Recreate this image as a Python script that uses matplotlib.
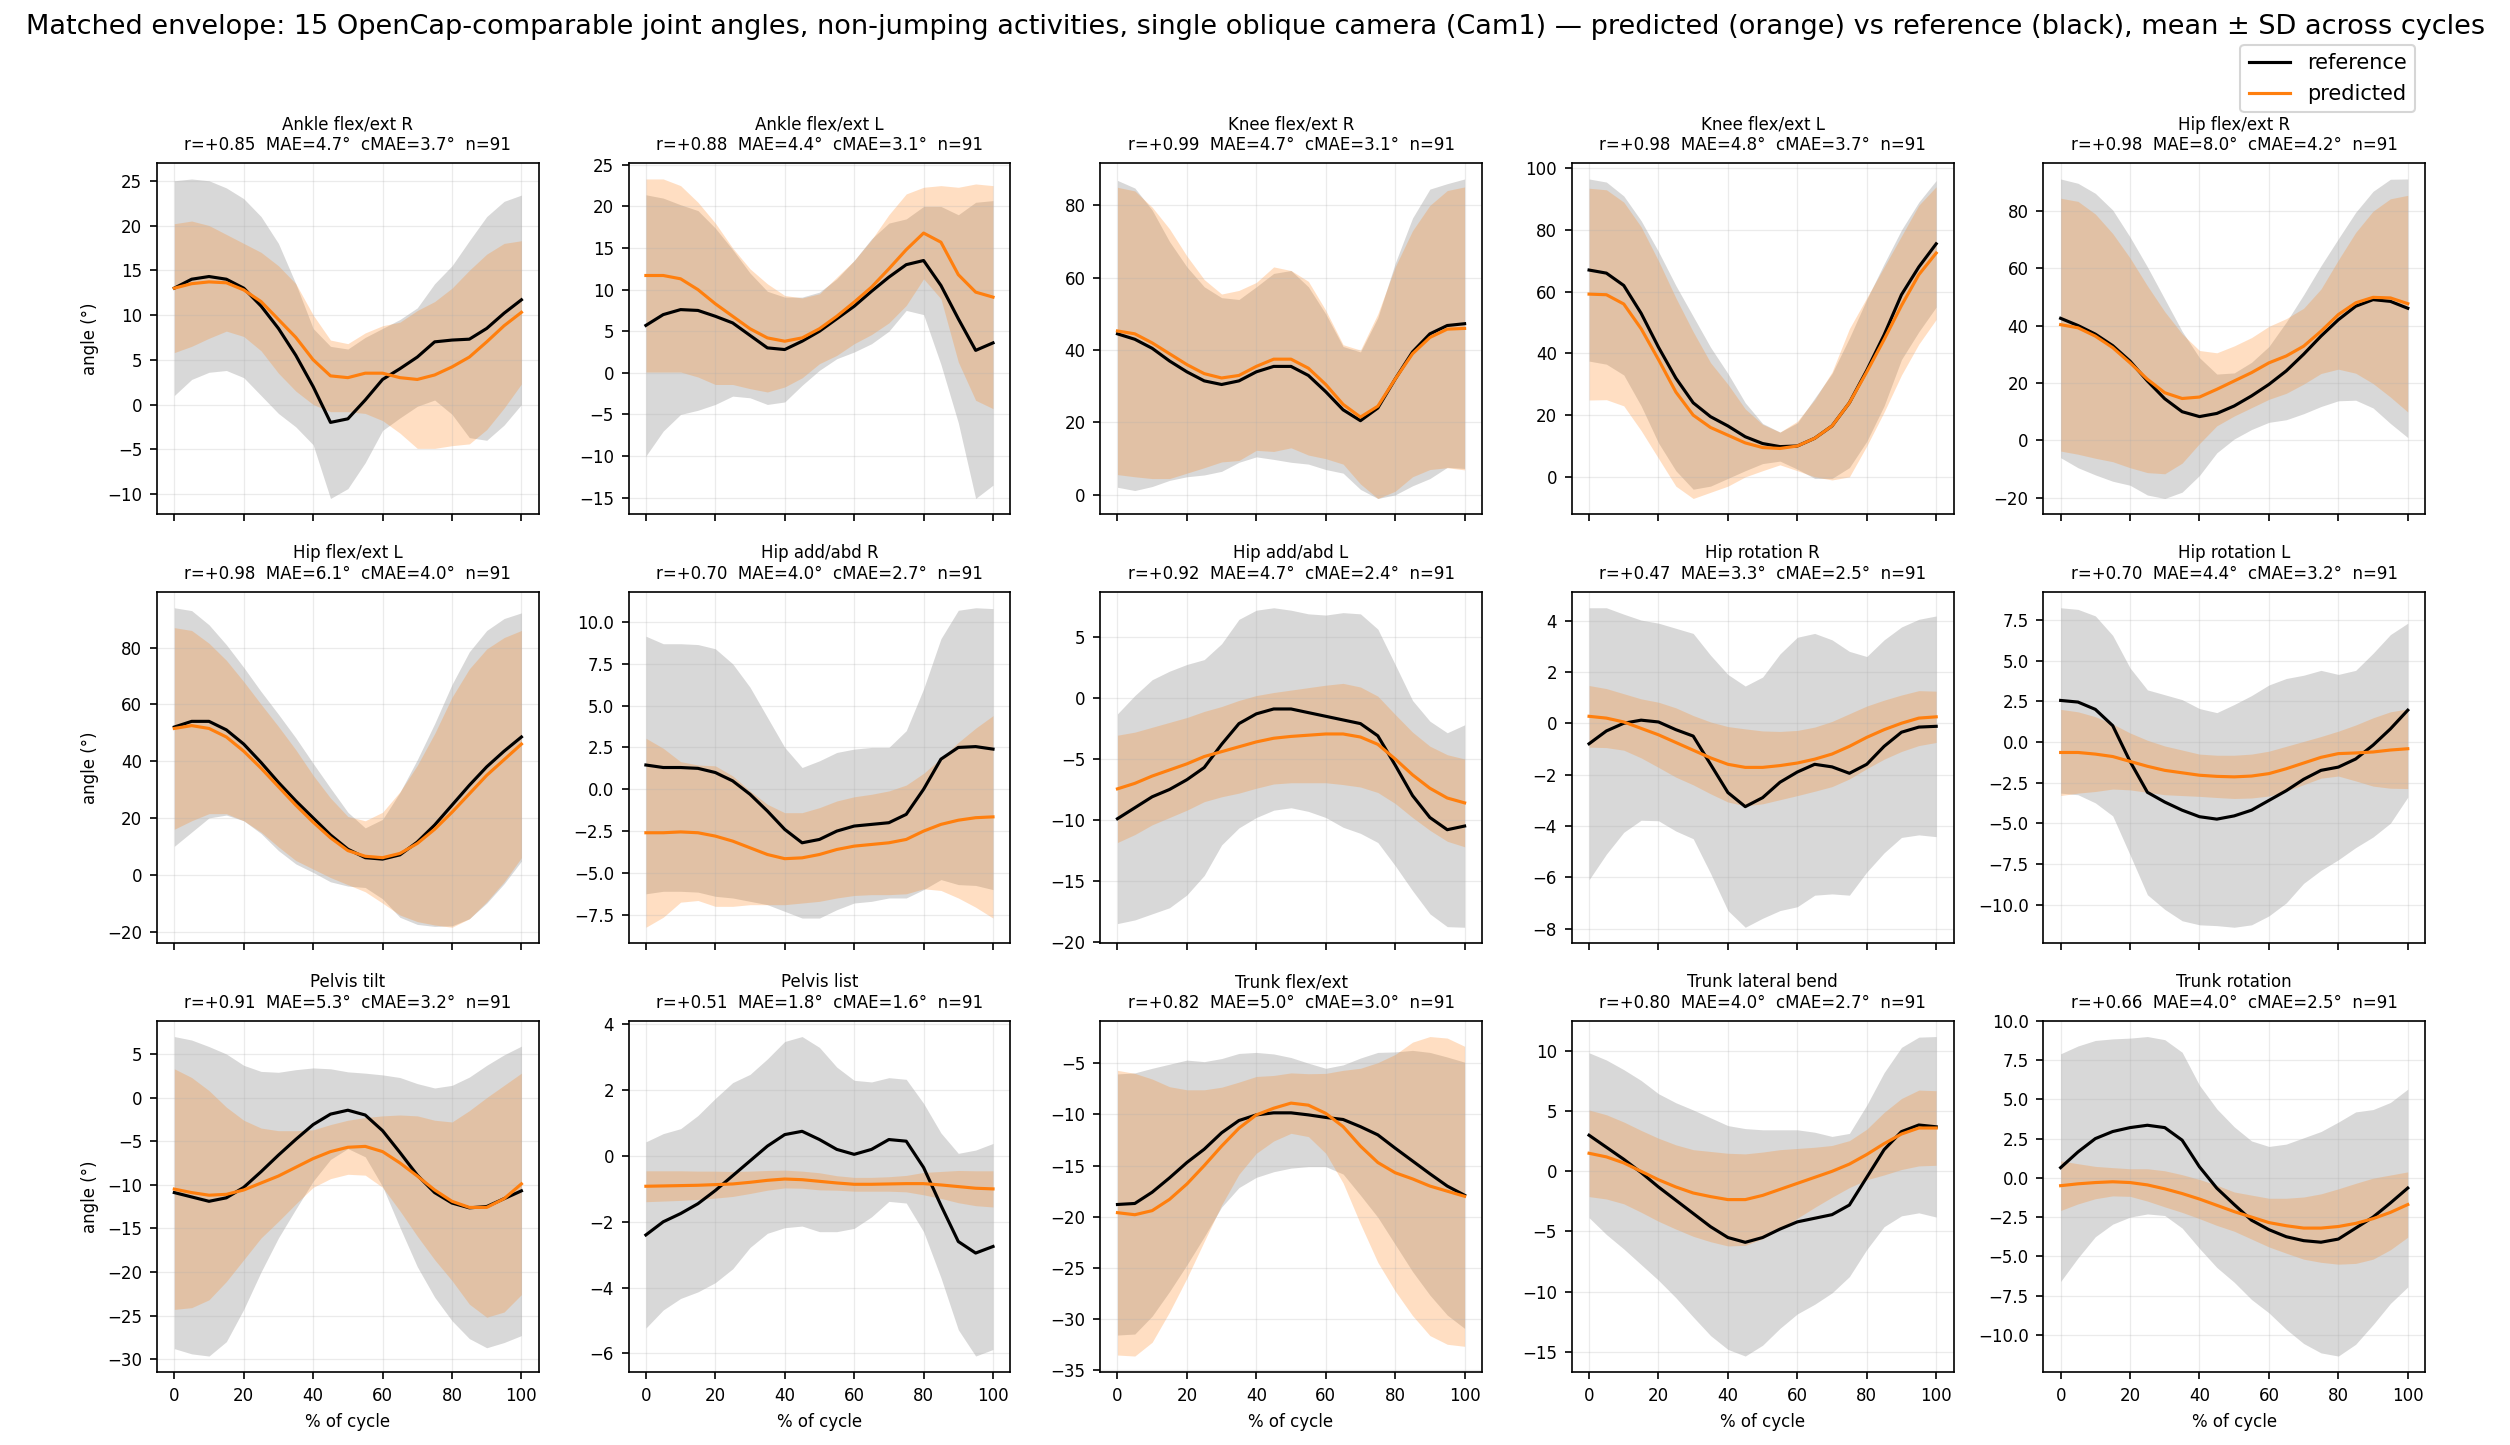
import matplotlib
matplotlib.use("Agg")
import matplotlib.pyplot as plt
from matplotlib.lines import Line2D

plt.rcParams["font.family"] = ["DejaVu Sans"]
plt.rcParams["font.size"] = 8

# % of cycle sample positions
pct = [0, 5, 10, 15, 20, 25, 30, 35, 40, 45, 50, 55, 60, 65, 70, 75, 80, 85, 90, 95, 100]

# ---- Ankle flex/ext R ----
ankle_r_ref = [13.0, 14.0, 14.3, 14.0, 13.0, 11.0, 8.5, 5.5, 2.0, -2.0, -1.6, 0.5, 2.8, 4.0, 5.3, 7.0, 7.2, 7.3, 8.5, 10.2, 11.7]
ankle_r_ref_sd = [12, 11.2, 10.7, 10.2, 10, 10, 9.5, 8, 6.5, 8.5, 7.8, 7, 5.7, 5.5, 5.5, 6.5, 8.3, 11, 12.5, 12.5, 11.7]
ankle_r_pred = [13.0, 13.5, 13.7, 13.6, 12.8, 11.5, 9.5, 7.5, 5.0, 3.2, 3.0, 3.5, 3.5, 3.0, 2.8, 3.3, 4.2, 5.3, 7.0, 8.8, 10.3]
ankle_r_pred_sd = [7.2, 7.0, 6.3, 5.4, 5.2, 5.5, 6.0, 6.0, 5.0, 4.0, 3.8, 4.5, 5.3, 6.2, 7.7, 8.2, 8.8, 9.7, 9.8, 9.2, 8.0]

# ---- Ankle flex/ext L ----
ankle_l_ref = [5.7, 7.0, 7.6, 7.5, 6.8, 6.0, 4.5, 3.0, 2.8, 3.8, 5.0, 6.5, 8.0, 9.8, 11.5, 13.0, 13.5, 10.5, 6.5, 2.7, 3.6]
ankle_l_ref_sd = [15.7, 14, 12.6, 12, 10.6, 8.8, 7.5, 6.8, 6.3, 5.3, 4.7, 4.8, 5.5, 6.3, 6.5, 5.5, 6.5, 9.5, 12.5, 17.8, 17.1]
ankle_l_pred = [11.7, 11.7, 11.3, 10.0, 8.3, 6.8, 5.3, 4.2, 3.8, 4.2, 5.3, 6.8, 8.5, 10.3, 12.5, 14.8, 16.8, 15.7, 11.8, 9.7, 9.1]
ankle_l_pred_sd = [11.6, 11.6, 11.2, 10.5, 9.7, 8.2, 7.2, 6.5, 5.5, 4.8, 4.2, 4.7, 5.0, 5.7, 6.5, 6.7, 5.5, 6.8, 10.5, 13.0, 13.4]

# ---- Knee flex/ext R ----
knee_r_ref = [44.5, 43, 40.5, 37, 34, 31.5, 30.5, 31.5, 34, 35.5, 35.5, 33, 28.5, 23.5, 20.5, 24, 32, 39.5, 44.5, 46.8, 47.3]
knee_r_ref_sd = [42.4, 41.8, 38.2, 33, 29, 26, 24, 22.5, 23.5, 25.7, 26.5, 24.5, 21.5, 17.5, 19, 25, 32, 37, 40, 39.2, 40]
knee_r_pred = [45.3, 44.5, 42, 39, 36, 33.5, 32.3, 33, 35.5, 37.5, 37.5, 35, 30.5, 25, 21.5, 24.5, 32, 39, 43.5, 45.8, 46]
knee_r_pred_sd = [39.7, 39.5, 37.5, 34.5, 30, 26, 23.2, 23.5, 23.2, 25.5, 24.5, 24, 20.5, 16.5, 18.5, 25.5, 31, 34, 36.5, 38.3, 39.1]

# ---- Knee flex/ext L ----
knee_l_ref = [67, 66, 62, 53, 42, 32, 24, 19.5, 16.5, 13, 10.8, 9.8, 10, 12.5, 16.5, 24, 34.5, 46, 59, 68, 75.5]
knee_l_ref_sd = [29.5, 29.5, 29, 30, 31, 30, 28, 22.5, 17, 11, 6.5, 4.7, 7.5, 13, 17, 21, 23, 23, 21, 21, 20.5]
knee_l_pred = [59.2, 59, 56, 48, 38, 27.5, 20, 16, 13.5, 11, 9.5, 9.2, 10, 12.5, 16.5, 24, 34, 44.5, 55.5, 65.5, 72.5]
knee_l_pred_sd = [34.3, 34, 33, 33, 32, 30.5, 27, 21, 16.5, 11, 7.5, 5.3, 8, 12.5, 17.5, 24, 24, 23.5, 22.5, 22.5, 21.5]

# ---- Hip flex/ext R ----
hip_r_ref = [42.5, 40, 37, 33, 27.6, 20.7, 14.5, 10, 8.3, 9.4, 12, 15.5, 19.5, 24.2, 30, 36.3, 42, 46.7, 49, 48.4, 46]
hip_r_ref_sd = [48.5, 49.5, 49, 47.2, 43.2, 39.7, 34.7, 28, 20.5, 13.7, 11.5, 11.7, 13.2, 17, 20.7, 24.5, 28.2, 32.7, 37.7, 42.5, 45]
hip_r_pred = [40.3, 39.2, 36.3, 32.3, 27, 21.3, 16.6, 14.6, 15.1, 17.8, 20.7, 23.6, 27, 29.4, 32.8, 38, 43.8, 47.9, 49.8, 49.6, 47.6]
hip_r_pred_sd = [44, 44, 42.5, 39.7, 36.5, 32.5, 28.2, 22.5, 16.2, 12.7, 12.2, 12.2, 12.7, 13, 13.2, 14.7, 19, 24.5, 30, 34.5, 37.7]

# ---- Hip flex/ext L ----
hip_l_ref = [52, 54, 54, 51, 46, 39.5, 32.5, 26, 20, 14, 9, 6, 5.5, 7, 11.5, 17.5, 24.5, 31.5, 38, 43.5, 48.5]
hip_l_ref_sd = [42, 39, 34, 30, 27, 25, 24, 22.2, 19.2, 16.5, 13, 10.5, 14, 22, 29, 35.7, 42.5, 47, 48, 46.7, 43.7]
hip_l_pred = [51.5, 52.5, 51.5, 48.5, 43.5, 37.5, 31, 24.5, 18.5, 13, 8.5, 6.5, 6, 7.5, 11, 16, 22, 28.5, 35, 40.5, 46]
hip_l_pred_sd = [35.5, 33.5, 30, 27, 24.5, 22.5, 21.2, 19.5, 16.5, 14, 12, 12.5, 16, 21.7, 27.5, 33.7, 40.5, 44, 44.5, 43, 40]

# ---- Hip add/abd R ----
hipadd_r_ref = [1.45, 1.3, 1.3, 1.25, 1.0, 0.5, -0.3, -1.3, -2.4, -3.2, -3.0, -2.5, -2.2, -2.1, -2.0, -1.5, 0.0, 1.8, 2.5, 2.55, 2.4]
hipadd_r_ref_sd = [7.7, 7.4, 7.4, 7.4, 7.4, 7.0, 6.4, 5.6, 4.9, 4.5, 4.7, 4.7, 4.6, 4.6, 4.5, 5.0, 6.0, 7.2, 8.2, 8.3, 8.4]
hipadd_r_pred = [-2.6, -2.6, -2.55, -2.6, -2.8, -3.1, -3.5, -3.9, -4.15, -4.1, -3.9, -3.6, -3.4, -3.3, -3.2, -3.0, -2.5, -2.1, -1.85, -1.7, -1.65]
hipadd_r_pred_sd = [5.65, 5.05, 4.2, 4.05, 4.2, 3.9, 3.4, 3.0, 2.75, 2.7, 2.8, 2.9, 2.95, 3.0, 3.1, 3.25, 3.45, 3.95, 4.65, 5.35, 6.05]

# ---- Hip add/abd L ----
hipadd_l_ref = [-9.9, -9.0, -8.1, -7.5, -6.7, -5.7, -3.8, -2.1, -1.3, -0.9, -0.9, -1.2, -1.5, -1.8, -2.1, -3.1, -5.5, -8.0, -9.8, -10.8, -10.5]
hipadd_l_ref_sd = [8.6, 9.2, 9.6, 9.7, 9.45, 8.85, 8.25, 8.55, 8.5, 8.3, 8.1, 8.1, 8.3, 8.8, 9.0, 8.75, 8.25, 7.8, 7.9, 7.95, 8.3]
hipadd_l_pred = [-7.45, -7.0, -6.4, -5.9, -5.4, -4.8, -4.4, -4.0, -3.6, -3.3, -3.15, -3.05, -2.95, -2.95, -3.2, -3.8, -5.0, -6.3, -7.4, -8.2, -8.6]
hipadd_l_pred_sd = [4.4, 4.2, 4.0, 3.9, 3.8, 3.7, 3.7, 3.8, 3.8, 3.75, 3.8, 3.9, 4.0, 4.15, 4.1, 3.95, 3.65, 3.5, 3.45, 3.55, 3.6]

# ---- Hip rotation R ----
hiprot_r_ref = [-0.8, -0.3, 0.0, 0.12, 0.05, -0.25, -0.5, -1.6, -2.7, -3.25, -2.9, -2.3, -1.9, -1.6, -1.7, -1.95, -1.6, -0.9, -0.35, -0.15, -0.12]
hiprot_r_ref_sd = [5.3, 4.8, 4.25, 3.9, 3.85, 3.95, 4.0, 4.25, 4.6, 4.7, 4.7, 5.0, 5.25, 5.1, 4.95, 4.75, 4.2, 4.15, 4.1, 4.2, 4.3]
hiprot_r_pred = [0.27, 0.2, 0.05, -0.2, -0.45, -0.75, -1.05, -1.35, -1.6, -1.72, -1.72, -1.65, -1.55, -1.4, -1.2, -0.9, -0.55, -0.25, 0.0, 0.2, 0.25]
hiprot_r_pred_sd = [1.2, 1.15, 1.1, 1.15, 1.27, 1.35, 1.35, 1.4, 1.47, 1.5, 1.42, 1.33, 1.27, 1.25, 1.27, 1.27, 1.22, 1.15, 1.1, 1.07, 1.0]

# ---- Hip rotation L ----
hiprot_l_ref = [2.55, 2.45, 2.0, 1.0, -1.2, -3.1, -3.7, -4.2, -4.6, -4.75, -4.55, -4.2, -3.6, -3.0, -2.3, -1.75, -1.55, -1.05, -0.2, 0.8, 1.95]
hiprot_l_ref_sd = [5.7, 5.7, 5.75, 5.55, 5.75, 6.3, 6.6, 6.8, 6.65, 6.55, 6.85, 7.05, 7.1, 6.9, 6.4, 6.15, 5.7, 5.45, 5.65, 5.8, 5.35]
hiprot_l_pred = [-0.65, -0.65, -0.75, -0.9, -1.2, -1.5, -1.75, -1.9, -2.05, -2.12, -2.15, -2.1, -1.95, -1.65, -1.3, -0.95, -0.72, -0.68, -0.62, -0.5, -0.42]
hiprot_l_pred_sd = [2.65, 2.5, 2.3, 2.0, 1.75, 1.6, 1.5, 1.4, 1.3, 1.3, 1.33, 1.35, 1.38, 1.38, 1.33, 1.28, 1.38, 1.72, 2.1, 2.35, 2.45]

# ---- Pelvis tilt ----
ptilt_ref = [-10.9, -11.4, -11.9, -11.5, -10.3, -8.5, -6.6, -4.8, -3.1, -1.9, -1.45, -2.0, -3.8, -6.3, -8.9, -10.9, -12.1, -12.65, -12.5, -11.6, -10.7]
ptilt_ref_sd = [17.9, 18.0, 17.75, 16.5, 14.0, 11.5, 9.5, 8.0, 6.5, 5.2, 4.4, 4.8, 6.4, 8.6, 10.5, 12.0, 13.5, 15.0, 16.2, 16.5, 16.6]
ptilt_pred = [-10.5, -10.9, -11.2, -11.1, -10.6, -9.8, -9.0, -8.0, -7.0, -6.2, -5.7, -5.6, -6.2, -7.5, -9.0, -10.6, -11.9, -12.6, -12.6, -11.6, -9.9]
ptilt_pred_sd = [13.8, 13.2, 12.0, 10.0, 8.0, 6.3, 5.2, 4.2, 3.3, 3.1, 3.1, 3.3, 4.1, 5.5, 6.9, 8.0, 9.1, 11.1, 12.6, 13.0, 12.7]

# ---- Pelvis list ----
plist_ref = [-2.4, -2.0, -1.75, -1.45, -1.05, -0.6, -0.15, 0.3, 0.65, 0.75, 0.5, 0.2, 0.05, 0.2, 0.5, 0.45, -0.35, -1.5, -2.6, -2.95, -2.75]
plist_ref_sd = [2.83, 2.68, 2.58, 2.68, 2.8, 2.83, 2.63, 2.65, 2.83, 2.88, 2.8, 2.5, 2.25, 2.05, 1.88, 1.88, 1.95, 2.2, 2.68, 3.13, 3.13]
plist_pred = [-0.92, -0.91, -0.9, -0.89, -0.87, -0.85, -0.8, -0.74, -0.7, -0.72, -0.77, -0.82, -0.86, -0.86, -0.85, -0.84, -0.84, -0.88, -0.93, -0.98, -1.0]
plist_pred_sd = [0.47, 0.46, 0.45, 0.43, 0.41, 0.38, 0.34, 0.3, 0.27, 0.26, 0.26, 0.22, 0.21, 0.21, 0.22, 0.25, 0.34, 0.41, 0.49, 0.53, 0.55]

# ---- Trunk flex/ext ----
tflex_ref = [-18.8, -18.7, -17.6, -16.2, -14.7, -13.4, -11.8, -10.6, -10.05, -9.85, -9.85, -10.05, -10.3, -10.5, -11.2, -12.0, -13.3, -14.55, -15.8, -17.0, -17.9]
tflex_ref_sd = [12.75, 12.75, 12.1, 11.1, 10.0, 8.55, 7.25, 6.55, 6.1, 5.75, 5.4, 5.05, 4.8, 5.33, 6.7, 8.05, 9.4, 10.8, 11.85, 12.6, 13.0]
tflex_pred = [-19.6, -19.8, -19.4, -18.3, -16.8, -15.0, -13.1, -11.35, -10.05, -9.4, -8.9, -9.1, -9.9, -11.2, -13.1, -14.7, -15.7, -16.3, -17.0, -17.5, -18.0]
tflex_pred_sd = [13.9, 13.8, 12.85, 11.0, 9.2, 7.4, 5.75, 4.5, 3.75, 3.2, 2.95, 3.07, 3.9, 5.5, 7.6, 9.75, 11.55, 13.35, 14.6, 14.95, 14.65]

# ---- Trunk lateral bend ----
tlat_ref = [3.0, 2.0, 1.0, -0.1, -1.3, -2.4, -3.5, -4.6, -5.5, -5.9, -5.5, -4.8, -4.2, -3.9, -3.6, -2.8, -0.5, 1.8, 3.3, 3.85, 3.7]
tlat_ref_sd = [6.85, 7.25, 7.45, 7.65, 7.75, 8.1, 8.6, 9.05, 9.3, 9.45, 8.95, 8.25, 7.65, 7.15, 6.5, 5.95, 6.0, 6.4, 7.0, 7.3, 7.5]
tlat_pred = [1.5, 1.2, 0.7, 0.0, -0.7, -1.3, -1.8, -2.1, -2.35, -2.35, -2.0, -1.5, -1.0, -0.5, 0.0, 0.6, 1.4, 2.3, 3.1, 3.6, 3.6]
tlat_pred_sd = [3.6, 3.5, 3.4, 3.4, 3.45, 3.5, 3.6, 3.75, 3.85, 3.8, 3.6, 3.3, 2.9, 2.5, 2.15, 1.95, 2.1, 2.6, 2.95, 3.15, 3.1]

# ---- Trunk rotation ----
trot_ref = [0.65, 1.65, 2.5, 2.95, 3.2, 3.35, 3.2, 2.4, 0.7, -0.66, -1.7, -2.7, -3.3, -3.75, -4.0, -4.1, -3.9, -3.2, -2.5, -1.6, -0.65]
trot_ref_sd = [7.25, 6.75, 6.25, 5.9, 5.7, 5.65, 5.6, 5.6, 5.2, 5.05, 4.95, 5.05, 5.3, 5.9, 6.55, 7.05, 7.45, 7.4, 6.85, 6.4, 6.3]
trot_pred = [-0.5, -0.38, -0.3, -0.25, -0.3, -0.45, -0.7, -1.0, -1.35, -1.75, -2.15, -2.5, -2.85, -3.05, -3.2, -3.2, -3.1, -2.9, -2.6, -2.2, -1.7]
trot_pred_sd = [1.58, 1.28, 1.03, 0.9, 0.88, 1.03, 1.15, 1.2, 1.25, 1.28, 1.25, 1.4, 1.55, 1.75, 1.98, 2.18, 2.4, 2.55, 2.58, 2.38, 2.08]

# panel names and stats
joint_names = ["Ankle flex/ext R", "Ankle flex/ext L", "Knee flex/ext R", "Knee flex/ext L", "Hip flex/ext R",
               "Hip flex/ext L", "Hip add/abd R", "Hip add/abd L", "Hip rotation R", "Hip rotation L",
               "Pelvis tilt", "Pelvis list", "Trunk flex/ext", "Trunk lateral bend", "Trunk rotation"]
r_vals = [0.85, 0.88, 0.99, 0.98, 0.98, 0.98, 0.70, 0.92, 0.47, 0.70, 0.91, 0.51, 0.82, 0.80, 0.66]
mae_vals = [4.7, 4.4, 4.7, 4.8, 8.0, 6.1, 4.0, 4.7, 3.3, 4.4, 5.3, 1.8, 5.0, 4.0, 4.0]
cmae_vals = [3.7, 3.1, 3.1, 3.7, 4.2, 4.0, 2.7, 2.4, 2.5, 3.2, 3.2, 1.6, 3.0, 2.7, 2.5]
n_vals = [91] * 15

series = [
    (ankle_r_ref, ankle_r_ref_sd, ankle_r_pred, ankle_r_pred_sd),
    (ankle_l_ref, ankle_l_ref_sd, ankle_l_pred, ankle_l_pred_sd),
    (knee_r_ref, knee_r_ref_sd, knee_r_pred, knee_r_pred_sd),
    (knee_l_ref, knee_l_ref_sd, knee_l_pred, knee_l_pred_sd),
    (hip_r_ref, hip_r_ref_sd, hip_r_pred, hip_r_pred_sd),
    (hip_l_ref, hip_l_ref_sd, hip_l_pred, hip_l_pred_sd),
    (hipadd_r_ref, hipadd_r_ref_sd, hipadd_r_pred, hipadd_r_pred_sd),
    (hipadd_l_ref, hipadd_l_ref_sd, hipadd_l_pred, hipadd_l_pred_sd),
    (hiprot_r_ref, hiprot_r_ref_sd, hiprot_r_pred, hiprot_r_pred_sd),
    (hiprot_l_ref, hiprot_l_ref_sd, hiprot_l_pred, hiprot_l_pred_sd),
    (ptilt_ref, ptilt_ref_sd, ptilt_pred, ptilt_pred_sd),
    (plist_ref, plist_ref_sd, plist_pred, plist_pred_sd),
    (tflex_ref, tflex_ref_sd, tflex_pred, tflex_pred_sd),
    (tlat_ref, tlat_ref_sd, tlat_pred, tlat_pred_sd),
    (trot_ref, trot_ref_sd, trot_pred, trot_pred_sd),
]

ORANGE = "#ff7f0e"

fig, axes = plt.subplots(3, 5, figsize=(2511 / 150, 1445 / 150), dpi=150, sharex=True)
fig.subplots_adjust(left=0.0625, right=0.9658, top=0.8872, bottom=0.0505, wspace=0.235, hspace=0.22)

for i, ax in enumerate(axes.flat):
    rm, rs, pm, ps = series[i]
    ax.fill_between(pct, [m - s for m, s in zip(rm, rs)], [m + s for m, s in zip(rm, rs)],
                    color="gray", alpha=0.3, linewidth=0)
    ax.fill_between(pct, [m - s for m, s in zip(pm, ps)], [m + s for m, s in zip(pm, ps)],
                    color=ORANGE, alpha=0.25, linewidth=0)
    ax.plot(pct, rm, color="black", lw=1.5, solid_joinstyle="round")
    ax.plot(pct, pm, color=ORANGE, lw=1.5, solid_joinstyle="round")
    ax.set_title(f"{joint_names[i]}\nr={r_vals[i]:+.2f}  MAE={mae_vals[i]:.1f}°  cMAE={cmae_vals[i]:.1f}°  n={n_vals[i]}",
                 fontsize=8)
    ax.grid(True, alpha=0.25, linewidth=0.6)
    ax.set_xticks([0, 20, 40, 60, 80, 100])
    ax.tick_params(labelsize=8)
    if i % 5 == 0:
        ax.set_ylabel("angle (°)", fontsize=8)
    if i >= 10:
        ax.set_xlabel("% of cycle", fontsize=8)

handles = [Line2D([], [], color="black", lw=1.5, label="reference"),
           Line2D([], [], color=ORANGE, lw=1.5, label="predicted")]
fig.legend(handles=handles, loc="upper right", bbox_to_anchor=(0.966, 0.976), fontsize=10)
fig.suptitle("Matched envelope: 15 OpenCap-comparable joint angles, non-jumping activities, single oblique camera (Cam1) "
             "— predicted (orange) vs reference (black), mean ± SD across cycles", fontsize=13, y=0.990)

fig.savefig("out.png", dpi=150)
